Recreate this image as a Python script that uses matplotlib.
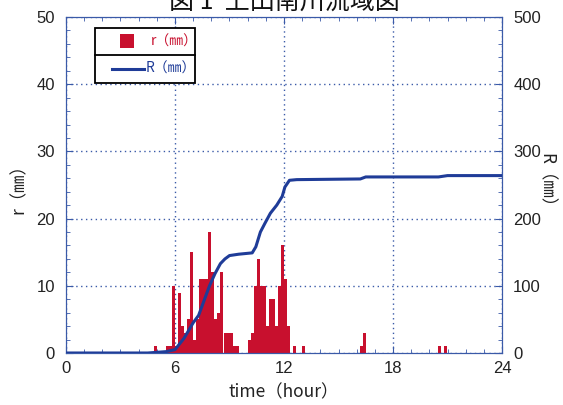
import matplotlib
matplotlib.use("Agg")
import matplotlib.pyplot as plt
from matplotlib.patches import Rectangle
from matplotlib.lines import Line2D
from matplotlib.ticker import MultipleLocator

# 10-minute rainfall r (mm): start time of each interval (hour) and depth
rain_start = [4.83, 5.50, 5.67, 5.83, 6.00, 6.17, 6.33, 6.50, 6.67, 6.83,
              7.00, 7.17, 7.33, 7.50, 7.67, 7.83, 8.00, 8.17, 8.33, 8.50,
              8.67, 8.83, 9.00, 9.17, 9.33,
              10.00, 10.17, 10.33, 10.50, 10.67, 10.83, 11.00, 11.17, 11.33, 11.50,
              11.67, 11.83, 12.00, 12.17, 12.50, 13.00, 16.17, 16.33, 20.50, 20.83]
rain_mm = [1, 1, 1, 10, 1, 9, 4, 3, 5, 15,
           2, 5, 11, 11, 11, 18, 12, 5, 6, 12,
           3, 3, 3, 1, 1,
           2, 3, 10, 14, 10, 10, 4, 8, 8, 4,
           10, 16, 11, 4, 1, 1, 1, 3, 1, 1]

# cumulative rainfall R (mm)
cum_t = [0, 4.5, 5.0, 5.5, 6.0, 6.5, 7.0, 7.3, 7.6, 7.9, 8.2, 8.5, 8.75, 9.0, 9.5,
         10.25, 10.45, 10.7, 10.95, 11.25, 11.6, 11.9, 12.05, 12.3, 12.7, 16.2, 16.5,
         20.5, 21.0, 24]
cum_R = [0, 0, 1, 2, 5, 22, 45, 56, 78, 100, 118, 133, 140, 145, 147,
         149, 158, 180, 193, 208, 220, 233, 247, 257, 258, 259, 262,
         262, 264, 264]

red = "#c8102e"
blue = "#1f3c98"
axis_blue = "#3a5aa8"
tick_font = ["Liberation Sans Narrow", "Liberation Sans", "DejaVu Sans"]
jp_font = ["Noto Sans CJK JP", "DejaVu Sans"]

fig = plt.figure(figsize=(5.63, 4.05), dpi=100)
ax = fig.add_axes([0.1172, 0.1284, 0.7745, 0.8296])
ax2 = ax.twinx()

ax.bar(rain_start, rain_mm, width=1 / 6, align="edge", color=red, linewidth=0, zorder=2)
ax2.plot(cum_t, cum_R, color=blue, linewidth=2.2, zorder=3)

ax.set_xlim(0, 24)
ax.set_ylim(0, 50)
ax2.set_ylim(0, 500)
ax.xaxis.set_major_locator(MultipleLocator(6))
ax.xaxis.set_minor_locator(MultipleLocator(1))
ax.yaxis.set_major_locator(MultipleLocator(10))
ax.yaxis.set_minor_locator(MultipleLocator(2))
ax2.yaxis.set_major_locator(MultipleLocator(100))
ax2.yaxis.set_minor_locator(MultipleLocator(20))

ax.grid(True, which="major", color=axis_blue, linestyle=(0, (1, 2.5)), linewidth=1.0)
ax.set_axisbelow(True)

for a in (ax, ax2):
    for s in a.spines.values():
        s.set_color(axis_blue)
        s.set_linewidth(0.8)
ax.tick_params(axis="x", which="both", direction="in", top=True, color=axis_blue, pad=6)
ax.tick_params(axis="y", which="both", direction="in", color=axis_blue, pad=8)
ax2.tick_params(axis="y", which="both", direction="in", color=axis_blue, pad=8)
ax.tick_params(which="major", length=5)
ax.tick_params(which="minor", length=3)
ax2.tick_params(which="major", length=5)
ax2.tick_params(which="minor", length=3)

for lab in ax.get_xticklabels() + ax.get_yticklabels() + ax2.get_yticklabels():
    lab.set_family(tick_font)
    lab.set_fontsize(12)
    lab.set_color("#222222")

ax.set_xlabel("time（hour）", family=jp_font, fontsize=12.5, color="#222222", labelpad=5)
ax.set_ylabel("r（㎜）", family=jp_font, fontsize=12.5, color="#222222", labelpad=6)
ax2.set_ylabel("R（㎜）", family=jp_font, fontsize=12.5, color="#222222",
               rotation=270, labelpad=10)

# legend box with divider
box = Rectangle((0.067, 0.804), 0.229, 0.163, transform=ax.transAxes,
                facecolor="white", edgecolor="black", linewidth=1.3, zorder=5)
ax2.add_patch(box)
ax2.add_line(Line2D([0.067, 0.296], [0.887, 0.887], transform=ax.transAxes,
                    color="black", linewidth=1.3, zorder=6))
ax2.add_patch(Rectangle((0.125, 0.908), 0.03, 0.04, transform=ax.transAxes,
                        facecolor=red, edgecolor="none", zorder=6))
ax2.text(0.195, 0.928, "r（㎜）", transform=ax.transAxes, color=red, fontsize=10,
         family=jp_font, va="center", zorder=7)
ax2.add_line(Line2D([0.105, 0.18], [0.845, 0.845], transform=ax.transAxes,
                    color=blue, linewidth=2.2, zorder=6))
ax2.text(0.182, 0.845, "R（㎜）", transform=ax.transAxes, color=blue, fontsize=10,
         family=jp_font, va="center", zorder=7)

fig.text(0.505, 0.995, "図 1  上田南川流域図", family=jp_font, fontsize=18,
         ha="center", va="center", color="#111111")

fig.savefig("out.png", dpi=100)
